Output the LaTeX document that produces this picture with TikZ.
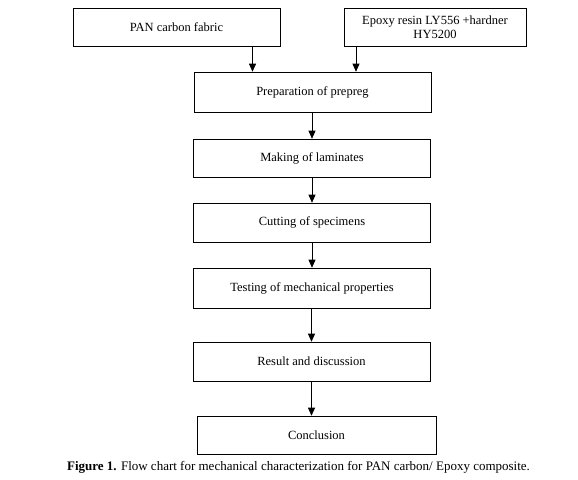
\documentclass[tikz,border=0pt]{standalone}
\usepackage{fontspec}
\setmainfont{Liberation Serif}
\usetikzlibrary{arrows.meta}

\begin{document}
\begin{tikzpicture}[x = 1pt, y = -1pt, line width = 0.6pt,
                    stage/.style = {rectangle, draw, minimum width = 237pt, minimum height = 39pt,
                                    font = \fontsize{12.5}{14}\selectfont, align = center},
                    arr/.style = {-{Triangle[length = 8pt, width = 7pt]}}]
      \useasboundingbox (0, 0) rectangle (578, 479);

      \node [stage, minimum width = 207pt, minimum height = 38pt] (fabric) at (176.5, 27) {PAN carbon fabric};
      \node [stage, minimum width = 182pt, minimum height = 38pt] (resin) at (435, 27) {Epoxy resin LY556 +hardner\\HY5200};

      \node [stage, minimum height = 40pt] (prepreg) at (312.5, 92) {Preparation of prepreg};
      \node [stage, minimum height = 38pt] (laminates) at (312, 158) {Making of laminates};
      \node [stage] (specimens) at (312, 222.5) {Cutting of specimens};
      \node [stage, minimum height = 40pt] (testing) at (312, 288) {Testing of mechanical properties};
      \node [stage] (result) at (311.5, 361.5) {Result and discussion};
      \node [stage, minimum width = 239pt, minimum height = 38pt] (conclusion) at (316.5, 435) {Conclusion};

      \node [font = \fontsize{13}{15}\selectfont] (caption) at (298.5, 467)
            {\textbf{Figure 1.} Flow chart for mechanical characterization for PAN carbon/ Epoxy composite.};

      \draw [arr] ([xshift = 76]fabric.south) -- ([xshift = 76]fabric.south |- prepreg.north);
      \draw [arr] ([xshift = -79]resin.south) -- ([xshift = -79]resin.south |- prepreg.north);
      \draw [arr] (prepreg.south -| laminates.north) -- (laminates.north);
      \draw [arr] (laminates) -- (specimens);
      \draw [arr] (specimens) -- (testing);
      \draw [arr] (testing.south -| result.north) -- (result.north);
      \draw [arr] (result.south) -- (result.south |- conclusion.north);
\end{tikzpicture}
\end{document}
